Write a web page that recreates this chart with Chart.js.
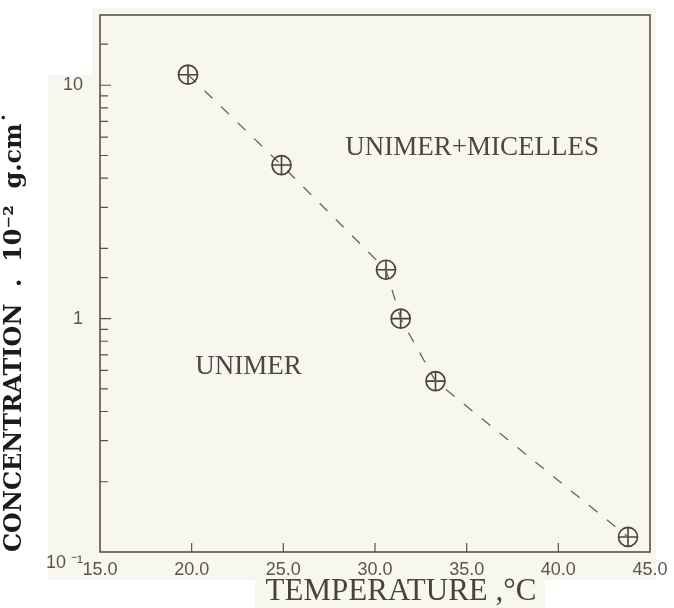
<!DOCTYPE html>
<html>
<head>
<meta charset="utf-8">
<script src="https://cdn.jsdelivr.net/npm/chart.js@4"></script>
<style>
  html, body { margin: 0; padding: 0; background: #ffffff; }
  #wrap { width: 674px; height: 608px; }
</style>
</head>
<body>
<div id="wrap"><canvas id="myChart"></canvas></div>
<script>
// data
const temperature = [19.8, 24.9, 30.6, 31.4, 33.3, 43.8];
const concentration = [11.1, 4.55, 1.62, 1.0, 0.54, 0.116];

const xTicks = [15, 20, 25, 30, 35, 40, 45];
const yLabels = { 0.1: ["", "10 \u207B\u00B9"], 1: "1", 10: "10" };

const regionLabels = ["UNIMER+MICELLES", "UNIMER"];
const regionX = [35.3, 23.1];
const regionY = [5.4, 0.62];

const xTitle = "TEMPERATURE ,\u00B0C";
const ink = "#4a433c";

// beige paper, frame, inward ticks, x title and region labels
const paperPlugin = {
    id: "paper",
    beforeDraw(chart) {
        const ctx = chart.ctx;
        ctx.save();
        ctx.fillStyle = "#f7f6ef";
        ctx.fillRect(92, 8, 564, 572);
        ctx.fillRect(48, 75, 60, 505);
        ctx.fillRect(255, 578, 290, 30);
        ctx.restore();
    },
    afterDraw(chart) {
        const ctx = chart.ctx;
        const a = chart.chartArea;
        const xs = chart.scales.x;
        const ys = chart.scales.y;
        ctx.save();
        ctx.strokeStyle = "#5a5249";
        ctx.lineWidth = 1.6;
        ctx.strokeRect(a.left, a.top, a.right - a.left, a.bottom - a.top);

        ctx.lineWidth = 1.2;
        ctx.beginPath();
        xs.ticks.forEach(t => {
            if (t.value <= xs.min || t.value >= xs.max) return;
            const px = xs.getPixelForValue(t.value);
            ctx.moveTo(px, a.bottom);
            ctx.lineTo(px, a.bottom - 9);
        });
        ys.ticks.forEach(t => {
            if (t.value <= ys.min || t.value >= ys.max) return;
            const py = ys.getPixelForValue(t.value);
            const major = yLabels[t.value] !== undefined;
            ctx.moveTo(a.left, py);
            ctx.lineTo(a.left + (major ? 11 : 8), py);
        });
        ctx.stroke();

        ctx.fillStyle = "#4d4640";
        ctx.font = "27px 'Liberation Serif'";
        ctx.textAlign = "center";
        ctx.textBaseline = "middle";
        regionLabels.forEach((s, i) => {
            ctx.fillText(s, xs.getPixelForValue(regionX[i]), ys.getPixelForValue(regionY[i]));
        });

        ctx.fillStyle = ink;
        ctx.font = "31px 'Liberation Serif'";
        ctx.fillText(xTitle, 401, 592);
        ctx.restore();
    }
};

new Chart("myChart", {
    type: "scatter",
    data: {
        datasets: [{
            data: temperature.map((t, i) => ({ x: t, y: concentration[i] })),
            showLine: true,
            borderColor: "#6a6259",
            borderWidth: 1.3,
            borderDash: [11, 12],
            pointStyle: "circle",
            pointRadius: 9.5,
            pointBorderWidth: 1.7,
            pointBorderColor: ink,
            pointBackgroundColor: "rgba(0,0,0,0)"
        }, {
            data: temperature.map((t, i) => ({ x: t, y: concentration[i] })),
            showLine: false,
            pointStyle: "cross",
            pointRadius: 9.5,
            pointBorderWidth: 1.6,
            pointBorderColor: ink
        }]
    },
    options: {
        responsive: true,
        maintainAspectRatio: false,
        animation: false,
        layout: {
            padding: { left: 0, right: 24, top: 15, bottom: 0 }
        },
        scales: {
            x: {
                type: "linear",
                min: 15,
                max: 45,
                afterBuildTicks: s => { s.ticks = xTicks.map(v => ({ value: v })); },
                afterFit: s => { s.height = 56; s.paddingLeft = 0; s.paddingRight = 0; },
                border: { display: false },
                grid: { display: false, drawTicks: false },
                ticks: {
                    color: "#5b554f",
                    padding: 7,
                    maxRotation: 0,
                    font: { family: "'Liberation Sans'", size: 18 },
                    callback: v => v.toFixed(1)
                }
            },
            y: {
                type: "logarithmic",
                min: 0.1,
                max: 20,
                afterFit: s => { s.width = 100; s.paddingTop = 0; s.paddingBottom = 0; },
                border: { display: false },
                grid: { display: false, drawTicks: false },
                ticks: {
                    color: "#5b554f",
                    padding: 17,
                    autoSkip: false,
                    font: { family: "'Liberation Sans'", size: 18 },
                    callback: v => yLabels[v] !== undefined ? yLabels[v] : ""
                },
                title: {
                    display: true,
                    align: "start",
                    text: "CONCENTRATION  .  10\u207B\u00B2  g.cm\u02D9",
                    color: "#1e1a17",
                    padding: { top: 0, bottom: 2 },
                    font: { family: "'DejaVu Serif'", size: 24, weight: "bold" }
                }
            }
        },
        plugins: {
            legend: { display: false },
            tooltip: { enabled: false }
        }
    },
    plugins: [paperPlugin]
});
</script>
</body>
</html>
